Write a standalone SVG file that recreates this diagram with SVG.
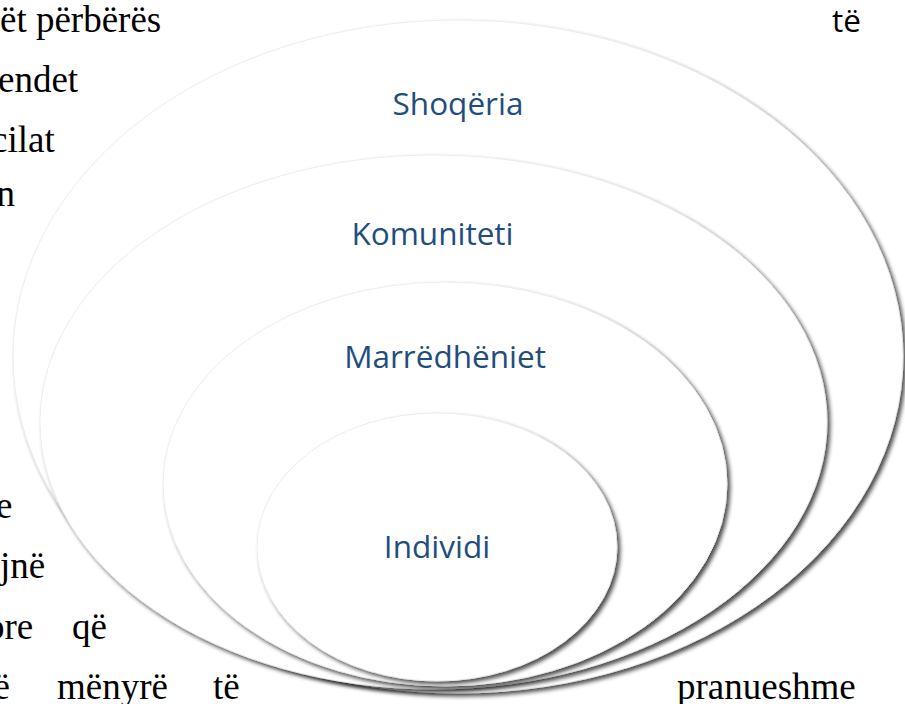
<svg xmlns="http://www.w3.org/2000/svg" width="905" height="704" viewBox="0 0 905 704">
  <style>
    .page { font-family: "Liberation Serif", "DejaVu Serif", serif; font-size: 37px; fill: #000; }
    .pagesans { font-family: "Open Sans", "Liberation Sans", sans-serif; font-size: 31.5px; fill: #000; }
    .ring { fill: #ffffff; stroke: #e9e9e9; stroke-width: 0.8; filter: url(#shadow); }
    .label { font-family: "Open Sans", "Liberation Sans", sans-serif; font-size: 31.5px; fill: #1f4e7e; text-anchor: middle; }
  </style>
  <defs>
    <filter id="shadow" x="-10%" y="-10%" width="120%" height="120%">
      <feGaussianBlur in="SourceAlpha" stdDeviation="2.3"/>
      <feOffset dx="2.8" dy="2.8" result="b"/>
      <feComponentTransfer>
        <feFuncA type="linear" slope="0.7"/>
      </feComponentTransfer>
      <feMerge>
        <feMergeNode/>
        <feMergeNode in="SourceGraphic"/>
      </feMerge>
    </filter>
  </defs>
  <rect x="0" y="0" width="905" height="704" fill="#ffffff"/>

  <g id="page-text">
    <text class="page" x="0" y="32">ët përbërës</text>
    <text class="pagesans" x="832" y="32">të</text>
    <text class="page" x="-2" y="92">endet</text>
    <text class="page" x="-9" y="152">cilat</text>
    <text class="page" x="-3.5" y="206">n</text>
    <text class="page" x="-4" y="518">e</text>
    <text class="page" x="0" y="578">jnë</text>
    <text class="page" x="-14" y="639">ore</text>
    <text class="page" x="72" y="639">që</text>
    <text class="page" x="-6.5" y="699">ë</text>
    <text class="page" x="57" y="699">mënyrë</text>
    <text class="page" x="213" y="699">të</text>
    <text class="page" x="677" y="699">pranueshme</text>
  </g>

  <g id="connectors"/>

  <g id="node-shoqeria">
    <ellipse class="ring" cx="458" cy="356.5" rx="445" ry="336.5"/>
    <text class="label" x="458" y="115">Shoqëria</text>
  </g>
  <g id="node-komuniteti">
    <ellipse class="ring" cx="433.5" cy="422" rx="393.5" ry="267"/>
    <text class="label" x="432.5" y="245">Komuniteti</text>
  </g>
  <g id="node-marredheniet">
    <ellipse class="ring" cx="445" cy="484" rx="282" ry="202"/>
    <text class="label" x="445" y="368">Marrëdhëniet</text>
  </g>
  <g id="node-individi">
    <ellipse class="ring" cx="437" cy="547" rx="180" ry="134"/>
    <text class="label" x="437" y="558">Individi</text>
  </g>
</svg>
